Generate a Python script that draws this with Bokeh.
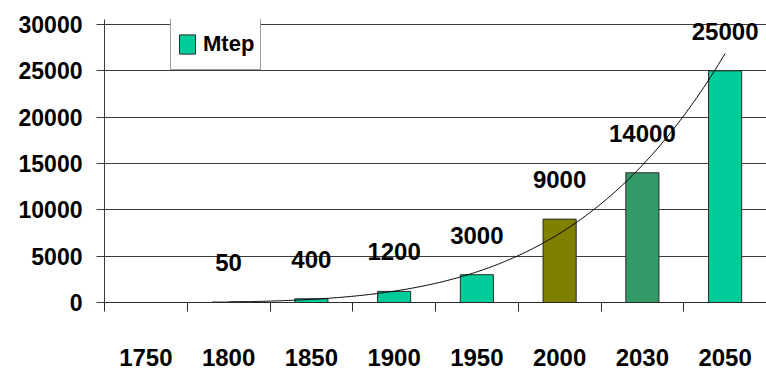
import numpy as np
from bokeh.plotting import figure
from bokeh.models import (ColumnDataSource, Range1d, FixedTicker, NumeralTickFormatter,
                          LabelSet, Legend, LegendItem)
from bokeh.core.properties import value
from bokeh.embed import file_html
from bokeh.resources import INLINE

# ---- data ----
years = ["1750", "1800", "1850", "1900", "1950", "2000", "2030", "2050"]
mtep = [np.nan, 50, 400, 1200, 3000, 9000, 14000, 25000]
bar_colors = ["#00CC99", "#00CC99", "#00CC99", "#00CC99", "#00CC99", "#808000", "#339966", "#00CC99"]
y_ticks = [0, 5000, 10000, 15000, 20000, 25000, 30000]

idx = np.arange(1, len(years) + 1, dtype=float)
vals = np.array(mtep, dtype=float)

src = ColumnDataSource(dict(
    x=idx, top=vals, color=bar_colors,
    label=["" if np.isnan(v) else str(int(v)) for v in vals],
    ly=np.nan_to_num(vals, nan=0.0),
))

# power trendline (least squares on log-log, as a spreadsheet "power" trend)
mask = ~np.isnan(vals)
b, lna = np.polyfit(np.log(idx[mask]), np.log(vals[mask]), 1)
tx = np.linspace(idx[mask].min(), idx[mask].max(), 300)
ty = np.exp(lna) * tx ** b

FONT = "Liberation Sans"

# frame top sits a few pixels above the 30000 line so the legend box can rise above it
y_top = 30000 * (282.7 / 277.7)

p = figure(width=766, height=371, output_backend="svg", toolbar_location=None,
           x_range=Range1d(0.5, len(years) + 0.5), y_range=Range1d(0, y_top),
           min_border_left=104, min_border_right=0, min_border_top=19, min_border_bottom=69)
p.outline_line_color = None
p.background_fill_color = "white"
p.border_fill_color = "white"

# grid
p.xgrid.grid_line_color = None
p.ygrid.grid_line_color = "#3c3c3c"
p.ygrid.grid_line_width = 1
p.ygrid.ticker = FixedTicker(ticks=y_ticks)

# bars
r = p.vbar(x="x", top="top", width=0.4, bottom=0, source=src,
           fill_color="color", line_color="#2a2a2a", line_width=1)

# trendline
p.line(tx, ty, line_color="black", line_width=1)

# data labels
labels = LabelSet(x="x", y="ly", text="label", source=src, text_align="center",
                  text_baseline="alphabetic", y_offset=31, text_font=value(FONT),
                  text_font_size=value("24px"), text_font_style=value("bold"),
                  text_color=value("black"))
p.add_layout(labels)

# x axis
xa = p.xaxis[0]
xa.ticker = FixedTicker(ticks=list(idx), minor_ticks=list(np.arange(0.5, len(years) + 1, 1.0)))
xa.major_label_overrides = {float(i): y for i, y in zip(idx, years)}
xa.major_tick_line_color = None
xa.major_tick_out = 0
xa.major_tick_in = 0
xa.minor_tick_out = 9
xa.minor_tick_in = 0
xa.minor_tick_line_color = "#2a2a2a"
xa.axis_line_color = "#2a2a2a"
xa.major_label_standoff = 37
xa.major_label_text_font = FONT
xa.major_label_text_font_size = "24px"
xa.major_label_text_font_style = "bold"
xa.major_label_text_color = "black"

# y axis
ya = p.yaxis[0]
ya.ticker = FixedTicker(ticks=y_ticks)
ya.formatter = NumeralTickFormatter(format="0")
ya.major_tick_out = 8
ya.major_tick_in = 0
ya.minor_tick_line_color = None
ya.major_tick_line_color = "#3c3c3c"
ya.axis_line_color = "#3c3c3c"
ya.major_label_standoff = 14
ya.major_label_text_font = FONT
ya.major_label_text_font_style = "bold"
ya.major_label_text_font_size = "23px"
ya.major_label_text_color = "black"

# legend
legend = Legend(items=[LegendItem(label="Mtep", renderers=[r], index=1)],
                location=(66, 232), orientation="vertical",
                border_line_color="#404040", border_line_width=1,
                background_fill_color="white", background_fill_alpha=1.0,
                padding=6, margin=0, spacing=0,
                glyph_width=20, glyph_height=24, label_height=39, label_standoff=6,
                label_text_font=FONT, label_text_font_size="22px",
                label_text_font_style="bold", label_text_baseline="middle",
                label_text_color="black")
p.add_layout(legend)

open("out.html", "w").write(file_html(p, INLINE))
